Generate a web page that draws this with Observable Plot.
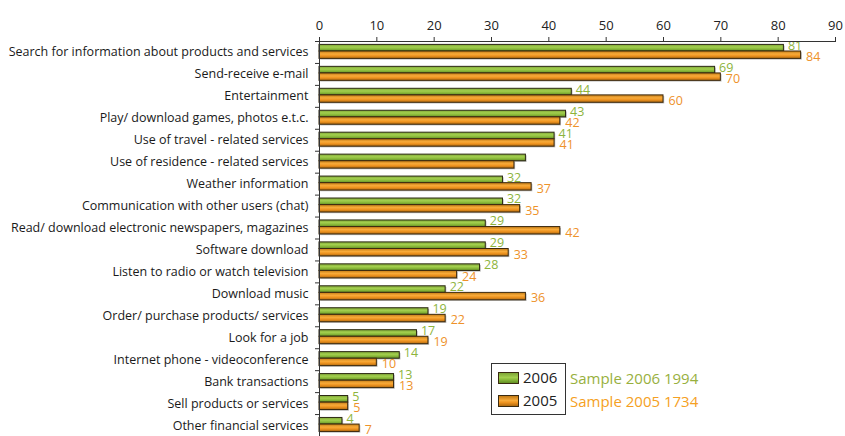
<!DOCTYPE html>
<html>
<head>
<meta charset="utf-8">
<script src="https://cdn.jsdelivr.net/npm/d3@7"></script>
<script src="https://cdn.jsdelivr.net/npm/@observablehq/plot@0.6"></script>
<style>
  html, body { margin: 0; padding: 0; background: #fff; overflow: hidden; }
  #wrap { position: relative; width: 845px; height: 436px; font-family: "Open Sans", sans-serif; }
  #legend { position: absolute; left: 491px; top: 363px; width: 75px; height: 52px; border: 1px solid #333; box-sizing: border-box; background: #fff; }
  .sw { position: absolute; left: 6px; width: 19px; height: 10px; border: 1px solid #3a2a10; }
  .lt { position: absolute; left: 31px; font-size: 15px; color: #222; line-height: 18px; }
  .st { position: absolute; left: 570px; font-size: 15px; line-height: 18px; white-space: nowrap; }
</style>
</head>
<body>
<div id="wrap">
  <div id="chart"></div>
  <div id="legend">
    <div class="sw" style="top:8px;background:linear-gradient(#7ea536,#a3cf4e 45%,#8cbb3c 65%,#638f24);"></div>
    <div class="lt" style="top:4px;">2006</div>
    <div class="sw" style="top:31px;background:linear-gradient(#c27a14,#f8ab3a 45%,#ef9420 65%,#b06a10);"></div>
    <div class="lt" style="top:27px;">2005</div>
  </div>
  <div class="st" style="top:369px;color:#98b03e;">Sample 2006 1994</div>
  <div class="st" style="top:392px;color:#f5a023;">Sample 2005 1734</div>
</div>
<script>
const categories = [
  "Search for information about products and services",
  "Send-receive e-mail",
  "Entertainment",
  "Play/ download games, photos e.t.c.",
  "Use of travel - related services",
  "Use of residence - related services",
  "Weather information",
  "Communication with other users (chat)",
  "Read/ download electronic newspapers, magazines",
  "Software download",
  "Listen to radio or watch television",
  "Download music",
  "Order/ purchase products/ services",
  "Look for a job",
  "Internet phone - videoconference",
  "Bank transactions",
  "Sell products or services",
  "Other financial services"
];
const values2006 = [81, 69, 44, 43, 41, 36, 32, 32, 29, 29, 28, 22, 19, 17, 14, 13, 5, 4];
const values2005 = [84, 70, 60, 42, 41, 34, 37, 35, 42, 33, 24, 36, 22, 19, 10, 13, 5, 7];
const labels2006 = ["81","69","44","43","41",null,"32","32","29","29","28","22","19","17","14","13","5","4"];
const labels2005 = ["84","70","60","42","41",null,"37","35","42","33","24","36","22","19","10","13","5","7"];
const xTicks = [0, 10, 20, 30, 40, 50, 60, 70, 80, 90];

const d2006 = categories.map((c, i) => ({cat: c, v: values2006[i], label: labels2006[i]}));
const d2005 = categories.map((c, i) => ({cat: c, v: values2005[i], label: labels2005[i]}));

const H = 436, MT = 41, MB = 0;
const bw = (H - MT - MB) / categories.length;

const chart = Plot.plot({
  width: 845,
  height: H,
  marginLeft: 319,
  marginRight: 10,
  marginTop: MT,
  marginBottom: MB,
  style: {fontFamily: "Open Sans, sans-serif", background: "#fff", overflow: "visible"},
  x: {domain: [0, 90], axis: null},
  y: {domain: categories, padding: 0, round: false, axis: null},
  marks: [
    Plot.axisX({anchor: "top", ticks: xTicks, tickSize: 5, tickPadding: 7, fontSize: 13, color: "#222", stroke: "#333", label: null}),
    Plot.axisY({anchor: "left", tickSize: 0, tickPadding: 11, fontSize: 12.5, fill: "#1a1a1a", label: null}),
    // shadows
    Plot.barX(d2006, {x: "v", y: "cat", insetTop: 3.4 + 1.2, insetBottom: bw - 10 - 1.2, dx: 1.2, fill: "#bbb"}),
    Plot.barX(d2005, {x: "v", y: "cat", insetTop: 10 + 1.2, insetBottom: bw - 17.4 - 1.2, dx: 1.2, fill: "#bbb"}),
    Plot.barX(d2006, {x: "v", y: "cat", insetTop: 3.4, insetBottom: bw - 10, fill: "url(#g2006)", stroke: "#2d2a14", strokeWidth: 1}),
    Plot.barX(d2005, {x: "v", y: "cat", insetTop: 10, insetBottom: bw - 17.4, fill: "url(#g2005)", stroke: "#3d2a0e", strokeWidth: 1}),
    Plot.text(d2006.filter(d => d.label), {x: "v", y: "cat", text: "label", textAnchor: "start", dx: 4, dy: -6.6, fill: "#8db43c", fontSize: 12.5}),
    Plot.text(d2005.filter(d => d.label), {x: "v", y: "cat", text: "label", textAnchor: "start", dx: 5, dy: 4.6, fill: "#ee922a", fontSize: 12.5}),
    Plot.ruleX([0], {stroke: "#333"}),
    Plot.ruleY(categories, {y: d => d, x1: 0, x2: 0, dy: -bw / 2, stroke: "#333", insetLeft: -4}),
    Plot.ruleY([categories[0]], {y: d => d, x1: 0, x2: 90, dy: -bw / 2, stroke: "#333"})
  ]
});

const defs = d3.select(chart).insert("defs", ":first-child");
const g1 = defs.append("linearGradient").attr("id", "g2006").attr("x1", 0).attr("y1", 0).attr("x2", 0).attr("y2", 1);
[[0, "#7ea536"], [0.4, "#a3cf4e"], [0.65, "#8cbb3c"], [1, "#638f24"]].forEach(([o, c]) => g1.append("stop").attr("offset", o).attr("stop-color", c));
const g2 = defs.append("linearGradient").attr("id", "g2005").attr("x1", 0).attr("y1", 0).attr("x2", 0).attr("y2", 1);
[[0, "#c27a14"], [0.4, "#f8ab3a"], [0.65, "#ef9420"], [1, "#b06a10"]].forEach(([o, c]) => g2.append("stop").attr("offset", o).attr("stop-color", c));

document.getElementById("chart").appendChild(chart);
</script>
</body>
</html>
